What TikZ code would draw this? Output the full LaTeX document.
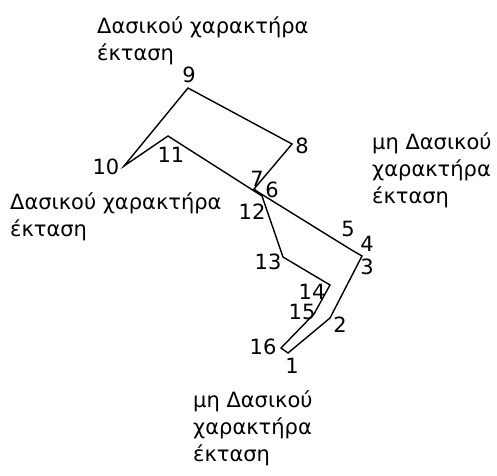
\documentclass[tikz,border=0pt]{standalone}
\usepackage{fontspec}
\setmainfont{DejaVu Sans}

\begin{document}
\begin{tikzpicture}[x=1pt, y=-1pt]

    \tikzset{
        boundary/.style = {line width=1.4pt, line join=miter},
        numtext/.style = {font=\fontsize{21}{24}\selectfont, inner sep=0pt},
        areatext/.style = {font=\fontsize{21}{27}\selectfont, align=left, anchor=base west, inner sep=0pt}
    }

    \useasboundingbox (0,0) rectangle (497,475);

    % boundary vertices
    \coordinate (p1) at (288,353);
    \coordinate (p2) at (330,318);
    \coordinate (p3) at (362,256);
    \coordinate (p4) at (362,256);
    \coordinate (p5) at (350,249);
    \coordinate (p6) at (258,192);
    \coordinate (p7) at (254,189);
    \coordinate (p8) at (292,144);
    \coordinate (p9) at (188,88);
    \coordinate (p10) at (124,166);
    \coordinate (p11) at (168,136);
    \coordinate (p12) at (262,196);
    \coordinate (p13) at (283,257);
    \coordinate (p14) at (330,285);
    \coordinate (p15) at (314,314);
    \coordinate (p16) at (281,348);

    \draw [boundary] (p1) -- (p2) -- (p3) -- (p4) -- (p5) -- (p6) -- (p7) -- (p8) -- (p9) -- (p10)
        -- (p11) -- (p12) -- (p13) -- (p14) -- (p15) -- (p16) -- cycle;

    % vertex numbers
    \node (n1) [numtext] at (292,366) {1};
    \node (n2) [numtext] at (340,325) {2};
    \node (n3) [numtext] at (367,267) {3};
    \node (n4) [numtext] at (367,244) {4};
    \node (n5) [numtext] at (348,229) {5};
    \node (n6) [numtext] at (272,190) {6};
    \node (n7) [numtext] at (257,179) {7};
    \node (n8) [numtext] at (302,146) {8};
    \node (n9) [numtext] at (189,75) {9};
    \node (n10) [numtext] at (106,167) {10};
    \node (n11) [numtext] at (171,155) {11};
    \node (n12) [numtext] at (252,212) {12};
    \node (n13) [numtext] at (268,262) {13};
    \node (n14) [numtext] at (312,292) {14};
    \node (n15) [numtext] at (302,312) {15};
    \node (n16) [numtext] at (263,347) {16};

    % areas (base = last line)
    \node (forestTop) [areatext] at (97,60) {Δασικού χαρακτήρα\\έκταση};
    \node (forestLeft) [areatext] at (10,236) {Δασικού χαρακτήρα\\έκταση};
    \node (otherRight) [areatext] at (372,203) {μη Δασικού\\χαρακτήρα\\έκταση};
    \node (otherBottom) [areatext] at (193,461) {μη Δασικού\\χαρακτήρα\\έκταση};

\end{tikzpicture}
\end{document}
